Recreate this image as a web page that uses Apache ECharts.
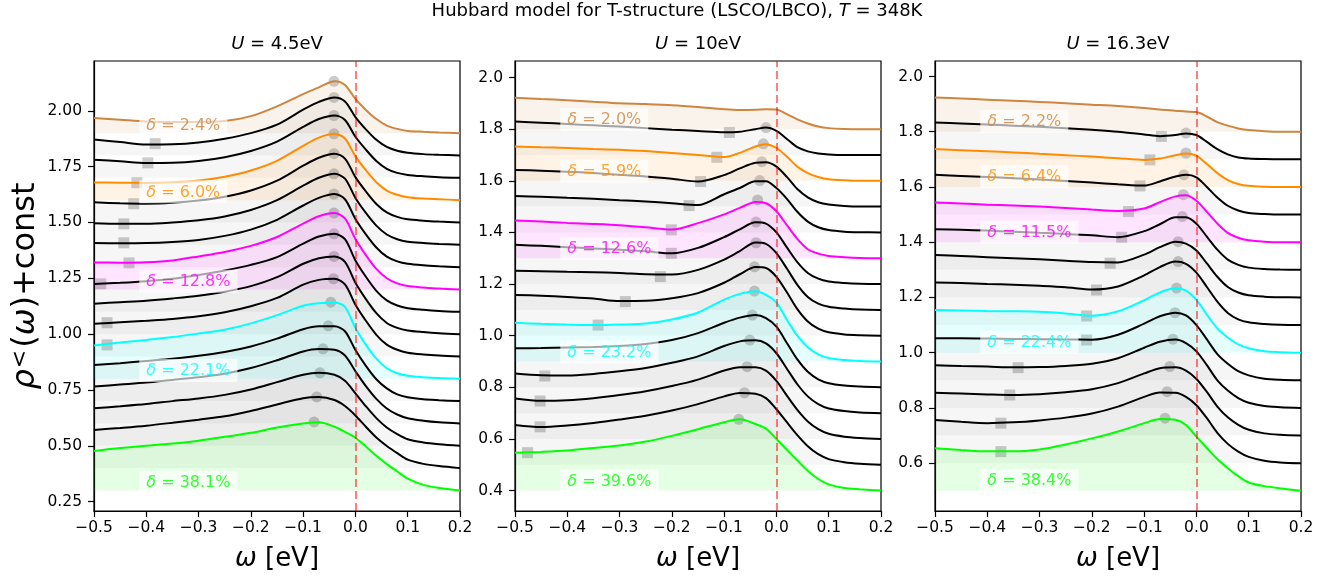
<!DOCTYPE html>
<html><head><meta charset="utf-8">
<script src="https://cdn.jsdelivr.net/npm/echarts@6/dist/echarts.min.js"></script>
<style>html,body{margin:0;padding:0;background:#fff}#c{width:1339px;height:577px}</style>
</head><body><div id="c"></div>
<script>
// ---------------- DATA ----------------
const omega = [-0.5,-0.45,-0.4,-0.35,-0.3,-0.25,-0.2,-0.15,-0.1,-0.07,-0.04,-0.02,0,0.02,0.04,0.06,0.08,0.1,0.13,0.16,0.2];
const panelTitles = ['4.5', '10', '16.3'];

// U = 4.5 eV
const u45Offsets = [1.9,1.8,1.7,1.6,1.5,1.4,1.3,1.2,1.1,1.0,0.9,0.8,0.7,0.6,0.5,0.4,0.3];
const u45Rho = [
 [.068,.06,.052,.05,.051,.054,.076,.12,.175,.205,.232,.216,.153,.104,.063,.034,.019,.010,.006,.003,0],
 [.071,.06,.049,.05,.058,.075,.1,.138,.205,.24,.26,.242,.172,.117,.070,.038,.021,.012,.006,.003,0],
 [.081,.074,.066,.067,.075,.092,.12,.162,.228,.263,.279,.259,.184,.126,.075,.040,.022,.013,.007,.003,0],
 [.079,.078,.077,.08,.088,.105,.133,.176,.243,.28,.297,.276,.196,.134,.080,.043,.024,.013,.007,.004,0],
 [.09,.086,.084,.088,.098,.115,.143,.187,.254,.29,.308,.286,.203,.139,.083,.045,.025,.014,.008,.004,0],
 [.097,.094,.094,.1,.11,.127,.156,.2,.265,.3,.318,.296,.210,.143,.086,.046,.025,.014,.008,.004,0],
 [.108,.107,.108,.113,.122,.14,.168,.212,.276,.31,.327,.304,.216,.147,.088,.047,.026,.015,.008,.004,0],
 [.121,.12,.122,.13,.148,.168,.195,.235,.295,.328,.342,.318,.226,.154,.092,.050,.027,.015,.009,.004,0],
 [.125,.13,.137,.148,.165,.185,.21,.245,.305,.337,.349,.325,.230,.157,.094,.051,.028,.016,.009,.004,0],
 [.136,.143,.15,.16,.172,.19,.215,.255,.315,.34,.348,.324,.230,.157,.094,.050,.028,.016,.009,.004,0],
 [.146,.153,.16,.168,.18,.198,.225,.262,.322,.343,.348,.323,.232,.160,.097,.053,.030,.017,.009,.004,0],
 [.149,.162,.174,.187,.203,.22,.248,.285,.327,.338,.342,.322,.227,.152,.090,.047,.025,.014,.007,.003,0],
 [.162,.17,.18,.19,.203,.22,.245,.28,.322,.335,.335,.313,.229,.158,.098,.057,.030,.017,.008,.004,0],
 [.165,.174,.183,.195,.207,.223,.248,.283,.322,.333,.33,.304,.234,.167,.110,.067,.040,.023,.012,.005,0],
 [.168,.177,.187,.2,.212,.228,.252,.285,.318,.327,.318,.291,.235,.177,.124,.082,.052,.029,.015,.007,0],
 [.171,.18,.19,.203,.217,.232,.256,.285,.313,.318,.305,.278,.236,.185,.137,.099,.067,.038,.019,.009,0],
 [.177,.19,.2,.21,.223,.24,.258,.282,.3,.305,.285,.262,.236,.197,.155,.118,.085,.053,.025,.011,0]
];
const u45PeakX = [-0.041,-0.041,-0.041,-0.041,-0.041,-0.041,-0.041,-0.041,-0.041,-0.041,-0.042,-0.047,-0.052,-0.062,-0.068,-0.074,-0.079];
const u45PeakY = [2.132,2.060,1.979,1.897,1.808,1.718,1.627,1.542,1.449,1.348,1.248,1.143,1.037,0.934,0.827,0.719,0.607];
const u45DipX = [-0.383,-0.397,-0.418,-0.424,-0.443,-0.443,-0.433,-0.487,-0.475,-0.475];
const u45DipY = [1.853,1.767,1.678,1.584,1.494,1.409,1.319,1.225,1.051,0.952];
const u45LabelCurve = [0,3,7,11,16];
const u45LabelText = ['2.4%','6.0%','12.8%','22.1%','38.1%'];
const u45YTicks = [0.25,0.5,0.75,1.0,1.25,1.5,1.75,2.0];

// U = 10 eV
const u10Offsets = [1.8,1.7,1.6,1.5,1.4,1.3,1.2,1.1,1.0,0.9,0.8,0.7,0.6,0.5,0.4];
const u10Rho = [
 [.122,.117,.112,.106,.1,.097,.093,.086,.077,.074,.075,.077,.076,.058,.038,.022,.010,.004,.001,0,0],
 [.13,.125,.12,.115,.11,.104,.098,.093,.088,.09,.1,.106,.093,.062,.030,.014,.006,.002,0,0,0],
 [.133,.13,.127,.123,.12,.115,.108,.1,.092,.108,.133,.142,.127,.094,.055,.03,.015,.006,.002,0,0],
 [.142,.139,.135,.13,.123,.117,.108,.097,.122,.148,.17,.172,.155,.115,.068,.036,.017,.008,.002,0,0],
 [.141,.138,.134,.13,.125,.12,.113,.106,.148,.172,.198,.198,.172,.13,.08,.042,.02,.009,.003,.001,0],
 [.146,.142,.137,.133,.128,.12,.111,.136,.17,.195,.218,.213,.182,.128,.075,.035,.018,.009,.004,.001,0],
 [.152,.148,.143,.138,.133,.127,.119,.14,.182,.212,.239,.234,.2,.142,.085,.043,.021,.01,.004,.001,0],
 [.152,.15,.148,.146,.143,.138,.137,.155,.195,.228,.261,.256,.22,.16,.097,.05,.024,.012,.005,.001,0],
 [.158,.155,.15,.144,.134,.135,.145,.165,.205,.238,.266,.262,.228,.168,.103,.055,.027,.013,.005,.002,0],
 [.15,.146,.143,.141,.143,.147,.163,.19,.24,.262,.272,.258,.228,.162,.1,.055,.028,.014,.006,.002,0],
 [.151,.152,.154,.156,.16,.168,.183,.21,.25,.27,.28,.268,.235,.172,.108,.06,.031,.016,.007,.003,0],
 [.154,.147,.146,.152,.162,.175,.195,.22,.26,.278,.282,.27,.232,.172,.112,.065,.035,.018,.008,.003,0],
 [.157,.148,.15,.158,.17,.185,.205,.23,.265,.278,.278,.265,.225,.168,.113,.068,.038,.02,.009,.004,0],
 [.154,.146,.152,.162,.175,.19,.21,.235,.265,.278,.275,.258,.215,.165,.115,.072,.041,.022,.01,.004,0],
 [.147,.15,.155,.165,.175,.19,.212,.238,.265,.276,.258,.24,.2,.158,.117,.077,.045,.024,.01,.005,0]
];
const u10PeakX = [-0.020,-0.025,-0.028,-0.032,-0.036,-0.039,-0.039,-0.042,-0.042,-0.046,-0.051,-0.056,-0.061,-0.072];
const u10PeakY = [1.806,1.743,1.674,1.601,1.526,1.440,1.360,1.267,1.173,1.080,0.983,0.880,0.779,0.676];
const u10DipX = [-0.090,-0.114,-0.145,-0.167,-0.201,-0.201,-0.222,-0.289,-0.341,-0.443,-0.452,-0.452,-0.476];
const u10DipY = [1.787,1.691,1.597,1.504,1.410,1.319,1.229,1.132,1.041,0.844,0.747,0.647,0.547];
const u10LabelCurve = [0,2,5,9,14];
const u10LabelText = ['2.0%','5.9%','12.6%','23.2%','39.6%'];
const u10YTicks = [0.4,0.6,0.8,1.0,1.2,1.4,1.6,1.8,2.0];

// U = 16.3 eV
const u163Offsets = [1.8,1.7,1.6,1.5,1.4,1.3,1.2,1.1,1.0,0.9,0.8,0.7,0.6,0.5];
const u163Rho = [
 [.124,.12,.116,.112,.108,.103,.098,.093,.086,.08,.076,.073,.071,.055,.035,.022,.012,.006,.002,0,0],
 [.133,.13,.126,.122,.118,.113,.107,.1,.09,.084,.088,.094,.088,.063,.037,.018,.007,.003,.001,0,0],
 [.137,.133,.129,.125,.12,.115,.11,.104,.098,.103,.115,.121,.113,.083,.05,.025,.011,.004,.001,0,0],
 [.144,.14,.136,.132,.127,.122,.116,.11,.105,.12,.138,.144,.135,.1,.062,.032,.015,.006,.002,0,0],
 [.144,.14,.136,.133,.129,.124,.118,.113,.122,.145,.166,.17,.15,.11,.068,.034,.016,.007,.002,0,0],
 [.147,.145,.142,.138,.134,.13,.125,.118,.14,.165,.19,.19,.167,.12,.073,.037,.018,.008,.003,.001,0],
 [.154,.15,.146,.142,.138,.133,.128,.127,.155,.182,.202,.195,.17,.123,.075,.038,.018,.008,.003,.001,0],
 [.154,.152,.149,.146,.142,.137,.129,.14,.18,.21,.23,.222,.19,.138,.085,.044,.021,.01,.004,.001,0],
 [.155,.153,.151,.15,.148,.142,.134,.15,.19,.218,.233,.225,.191,.138,.088,.055,.03,.016,.005,.002,0],
 [.152,.152,.151,.15,.149,.148,.147,.165,.205,.232,.245,.235,.2,.148,.095,.06,.033,.018,.006,.002,0],
 [.155,.152,.15,.147,.148,.152,.16,.18,.218,.24,.248,.235,.205,.155,.1,.063,.036,.019,.007,.003,0],
 [.155,.152,.149,.147,.15,.157,.168,.19,.225,.244,.247,.235,.205,.158,.105,.066,.039,.021,.008,.003,0],
 [.156,.15,.145,.148,.155,.165,.18,.205,.24,.256,.255,.24,.21,.163,.11,.07,.042,.023,.009,.003,0],
 [.154,.148,.143,.143,.15,.168,.19,.215,.245,.26,.257,.238,.196,.155,.115,.082,.053,.03,.017,.009,0]
];
const u163PeakX = [-0.020,-0.020,-0.024,-0.025,-0.027,-0.035,-0.035,-0.038,-0.041,-0.045,-0.051,-0.056,-0.060];
const u163PeakY = [1.795,1.723,1.644,1.572,1.493,1.402,1.330,1.234,1.145,1.049,0.950,0.859,0.763];
const u163DipX = [-0.067,-0.089,-0.108,-0.130,-0.143,-0.165,-0.191,-0.210,-0.210,-0.341,-0.357,-0.374,-0.374];
const u163DipY = [1.783,1.698,1.604,1.511,1.418,1.324,1.227,1.133,1.046,0.946,0.847,0.745,0.642];
const u163LabelCurve = [0,2,4,8,13];
const u163LabelText = ['2.2%','6.4%','11.5%','22.4%','38.4%'];
const u163YTicks = [0.6,0.8,1.0,1.2,1.4,1.6,1.8,2.0];

const xTicks = [-0.5,-0.4,-0.3,-0.2,-0.1,0.0,0.1,0.2];

// ---------------- STYLE / LAYOUT ----------------
const FONT = 'DejaVu Sans';
const labelColors = ['#cd853f','#ff8c00','#ff00ff','#00ffff','#00ff00'];
const labelFills = ['rgba(205,133,63,0.1)','rgba(255,140,0,0.1)','rgba(255,0,255,0.1)','rgba(0,255,255,0.1)','rgba(0,255,0,0.1)'];
const panels = [
  {off:u45Offsets, rho:u45Rho, px:u45PeakX, py:u45PeakY, dx:u45DipX, dy:u45DipY, lc:u45LabelCurve, lt:u45LabelText, yt:u45YTicks, ymin:0.208, ymax:2.223, dec:2, left:94},
  {off:u10Offsets, rho:u10Rho, px:u10PeakX, py:u10PeakY, dx:u10DipX, dy:u10DipY, lc:u10LabelCurve, lt:u10LabelText, yt:u10YTicks, ymin:0.321, ymax:2.064, dec:1, left:515},
  {off:u163Offsets, rho:u163Rho, px:u163PeakX, py:u163PeakY, dx:u163DipX, dy:u163DipY, lc:u163LabelCurve, lt:u163LabelText, yt:u163YTicks, ymin:0.427, ymax:2.056, dec:1, left:935}
];
const GW = 366, GT = 61, GH = 450;
const fmt = (v, d) => v.toFixed(d).replace('-', '\u2212');
const tickFont = 15.5;

const grids = [], xAxes = [], yAxes = [], series = [];
panels.forEach((P, p) => {
  grids.push({left:P.left, top:GT, width:GW, height:GH, show:true, borderColor:'#000', borderWidth:1.2, backgroundColor:'transparent'});
  xAxes.push({
    type:'value', gridIndex:p, min:-0.5, max:0.2, interval:0.1,
    axisLine:{show:true, onZero:false, lineStyle:{color:'#000', width:1.2}},
    axisTick:{show:true, length:6, lineStyle:{color:'#000', width:1.2}, customValues:xTicks},
    axisLabel:{color:'#000', fontFamily:FONT, fontSize:tickFont, margin:9, customValues:xTicks, formatter:v=>fmt(v,1)},
    splitLine:{show:false},
    name:'{i|\u03c9} [eV]', nameLocation:'middle', nameGap:35,
    nameTextStyle:{color:'#000', fontFamily:FONT, fontSize:26, rich:{i:{fontFamily:FONT, fontStyle:'italic', fontSize:26, color:'#000'}}}
  });
  const ya = {
    type:'value', gridIndex:p, min:P.ymin, max:P.ymax,
    axisLine:{show:true, onZero:false, lineStyle:{color:'#000', width:1.2}},
    axisTick:{show:true, length:6, lineStyle:{color:'#000', width:1.2}, customValues:P.yt},
    axisLabel:{color:'#000', fontFamily:FONT, fontSize:tickFont, margin:12, customValues:P.yt, formatter:v=>fmt(v,P.dec)},
    splitLine:{show:false}
  };
  if (p === 0) {
    ya.name = '{i|\u03c1}{s|<}{n|(}{i|\u03c9}{n|)+const}';
    ya.nameLocation = 'middle'; ya.nameGap = 47; ya.nameRotate = 90;
    ya.nameTextStyle = {color:'#000', fontFamily:FONT, fontSize:32, rich:{
      i:{fontFamily:FONT, fontStyle:'italic', fontSize:32, color:'#000'},
      n:{fontFamily:FONT, fontSize:32, color:'#000'},
      s:{fontFamily:FONT, fontSize:22, color:'#000', verticalAlign:'top', lineHeight:32, padding:[0,2,12,1]}
    }};
  }
  yAxes.push(ya);

  // curves
  P.off.forEach((o, i) => {
    const li = P.lc.indexOf(i);
    const col = li >= 0 ? labelColors[li] : '#000000';
    const fill = li >= 0 ? labelFills[li] : 'rgba(0,0,0,0.035)';
    series.push({
      type:'line', xAxisIndex:p, yAxisIndex:p, silent:true, animation:false,
      symbol:'none', smooth:0.3, z:3,
      data: omega.map((x, k) => [x, o + P.rho[i][k]]),
      lineStyle:{color:col, width:2},
      areaStyle:{origin:o, color:fill, opacity:1}
    });
  });
  // peak circles
  series.push({type:'scatter', xAxisIndex:p, yAxisIndex:p, silent:true, animation:false, z:2,
    symbol:'circle', symbolSize:11, itemStyle:{color:'rgba(128,128,128,0.5)'},
    data:P.px.map((x,k)=>[x, P.py[k]])});
  // dip squares
  series.push({type:'scatter', xAxisIndex:p, yAxisIndex:p, silent:true, animation:false, z:2,
    symbol:'rect', symbolSize:11, itemStyle:{color:'rgba(128,128,128,0.5)'},
    data:P.dx.map((x,k)=>[x, P.dy[k]])});
  // dashed zero line
  series.push({type:'line', xAxisIndex:p, yAxisIndex:p, silent:true, animation:false, z:5, data:[],
    markLine:{silent:true, symbol:'none', animation:false, label:{show:false},
      lineStyle:{color:'rgba(255,0,0,0.5)', type:[8,4], width:2},
      data:[{xAxis:0}]}});
  // doping labels
  series.push({type:'scatter', xAxisIndex:p, yAxisIndex:p, silent:true, animation:false, z:10,
    symbolSize:0,
    data:P.lc.map((ci,k)=>({value:[-0.4, P.off[ci] + 0.037],
      label:{color:labelColors[k], rich:{i:{fontFamily:FONT, fontStyle:'italic', fontSize:16, color:labelColors[k]}, n:{fontFamily:FONT, fontSize:16, color:labelColors[k]}}},
      name:P.lt[k]})),
    label:{show:true, position:'right', distance:0, offset:[-7,0],
      fontFamily:FONT, fontSize:16,
      backgroundColor:'rgba(255,255,255,0.8)', padding:[4,7,3,7],
      formatter:d=>'{i|\u03b4}{n| = ' + d.name + '}'}
  });
});

const chart = echarts.init(document.getElementById('c'), null, {renderer:'canvas'});
chart.setOption({
  animation:false,
  backgroundColor:'#fff',
  grid:grids, xAxis:xAxes, yAxis:yAxes, series:series,
  graphic:[
    {type:'text', x:677, y:11, style:{text:'{n|Hubbard model for T-structure (LSCO/LBCO), }{i|T}{n| = 348K}', textAlign:'center', textVerticalAlign:'middle',
      rich:{n:{fontFamily:FONT, fontSize:18, fill:'#000'}, i:{fontFamily:FONT, fontStyle:'italic', fontSize:18, fill:'#000'}}}},
  ].concat(panelTitles.map((t,p)=>({type:'text', x:panels[p].left + GW/2, y:44,
      style:{text:'{i|U}{n| = ' + t + 'eV}', textAlign:'center', textVerticalAlign:'middle',
      rich:{n:{fontFamily:FONT, fontSize:18, fill:'#000'}, i:{fontFamily:FONT, fontStyle:'italic', fontSize:18, fill:'#000'}}}})))
});
</script></body></html>
